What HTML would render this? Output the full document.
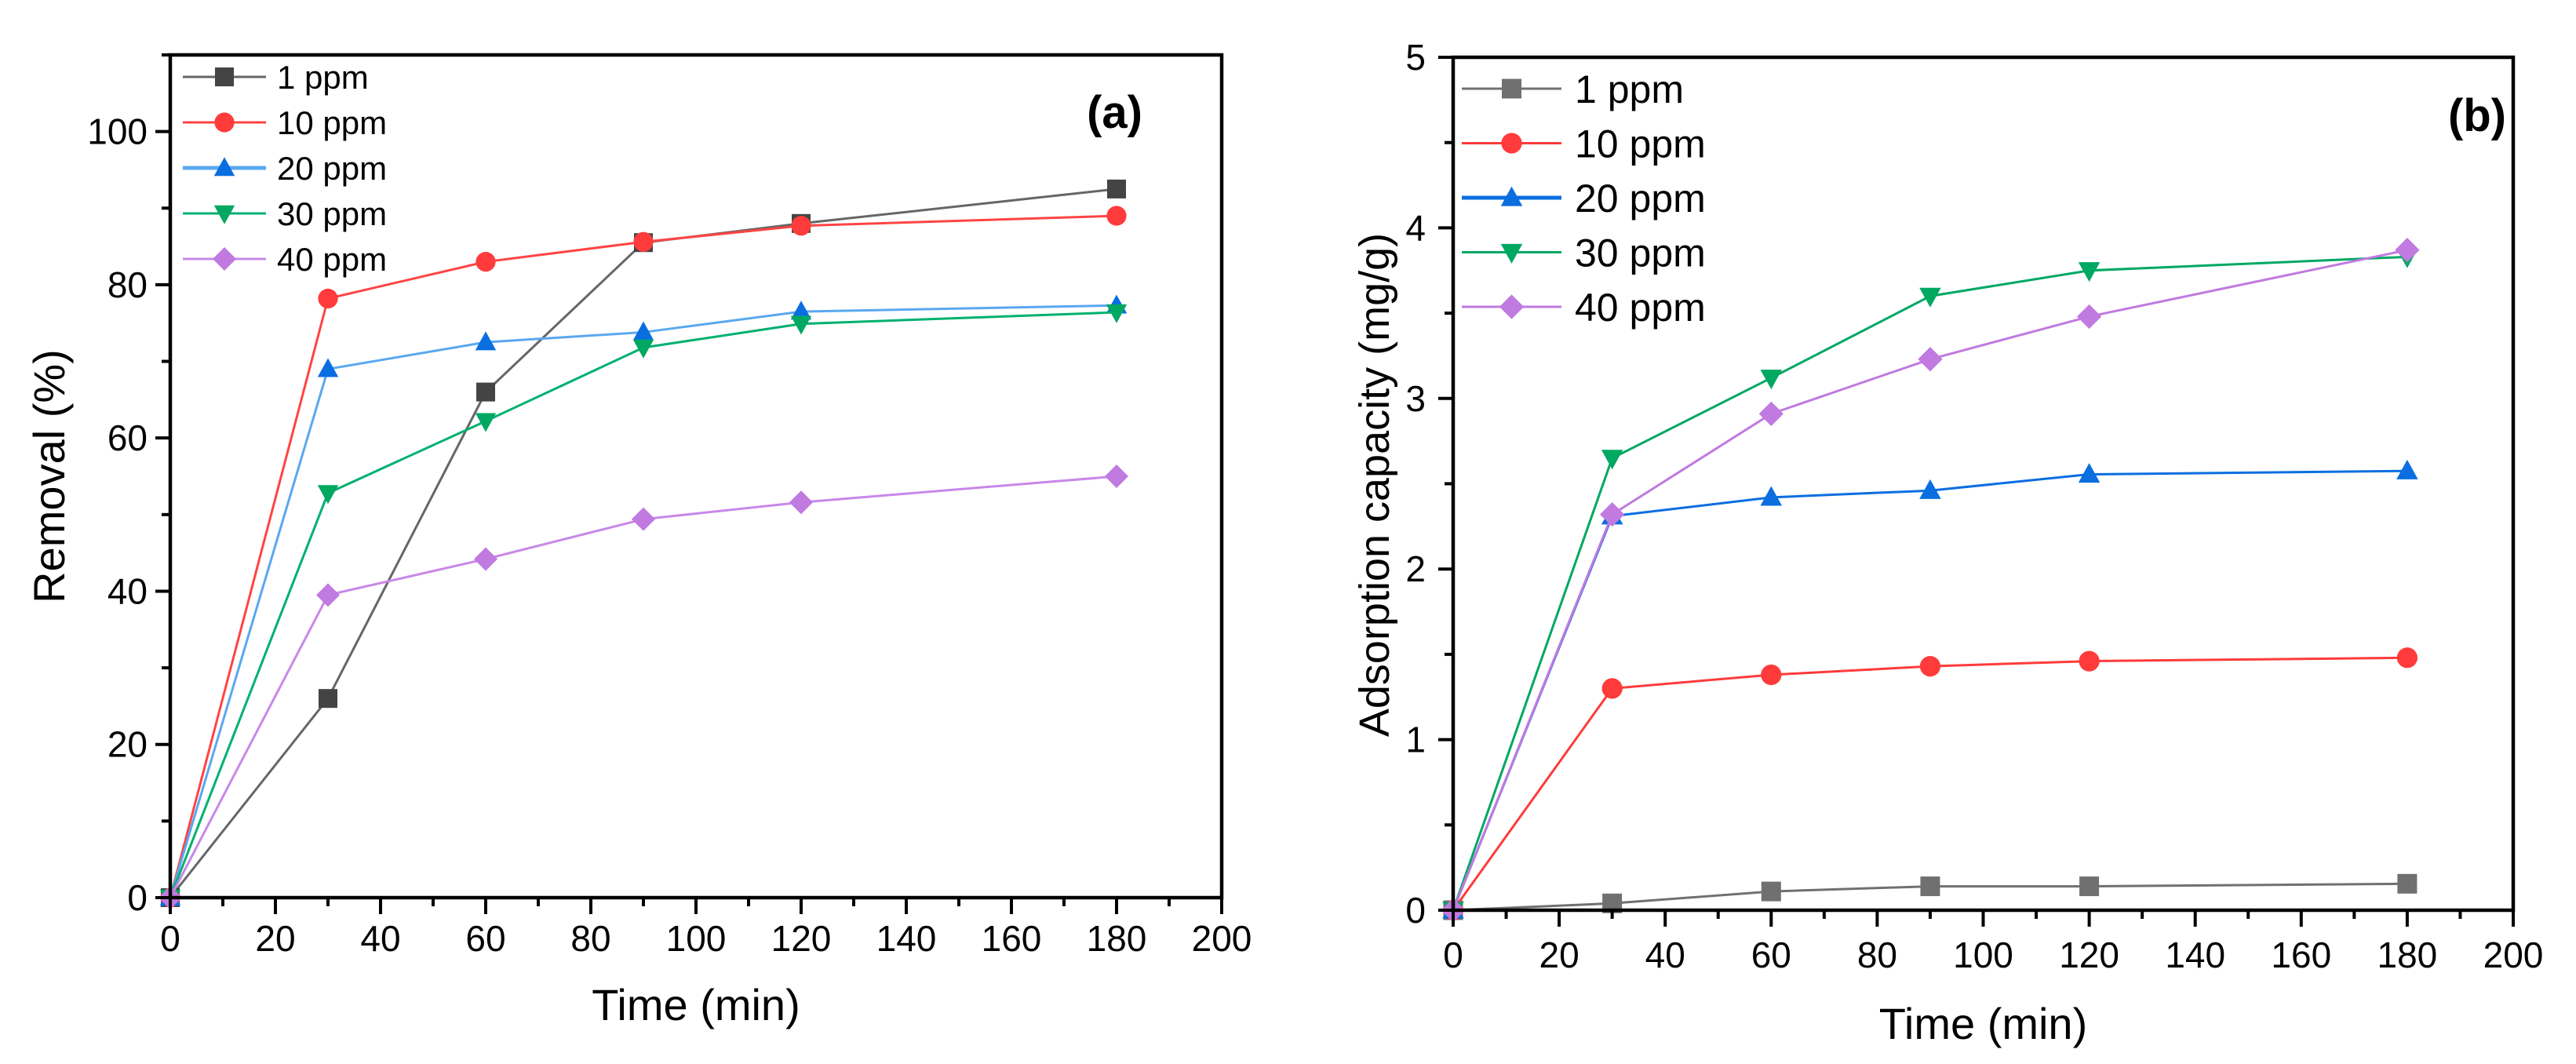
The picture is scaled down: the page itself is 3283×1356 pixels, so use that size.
<!DOCTYPE html>
<html><head><meta charset="utf-8"><style>
html,body{margin:0;padding:0;background:#fff;}
svg{display:block;font-family:"Liberation Sans",Arial,sans-serif;}
</style></head><body>
<svg id="fig" width="3283" height="1356" viewBox="0 0 3283 1356" xmlns="http://www.w3.org/2000/svg"></svg>
<script>
const times = [0, 30, 60, 90, 120, 180];
const seriesNames = ["1 ppm", "10 ppm", "20 ppm", "30 ppm", "40 ppm"];
const removal1 = [0, 26, 66, 85.5, 88, 92.5];
const removal10 = [0, 78.2, 83, 85.6, 87.7, 89];
const removal20 = [0, 69, 72.5, 73.8, 76.5, 77.3];
const removal30 = [0, 52.8, 62.2, 71.8, 74.9, 76.4];
const removal40 = [0, 39.5, 44.2, 49.4, 51.6, 55];
const capacity1 = [0, 0.04, 0.11, 0.14, 0.14, 0.155];
const capacity10 = [0, 1.3, 1.38, 1.43, 1.46, 1.48];
const capacity20 = [0, 2.31, 2.42, 2.46, 2.555, 2.575];
const capacity30 = [0, 2.65, 3.12, 3.6, 3.75, 3.83];
const capacity40 = [0, 2.32, 2.91, 3.23, 3.48, 3.87];
const xTicks = [0, 20, 40, 60, 80, 100, 120, 140, 160, 180, 200];
const yTicksA = [0, 20, 40, 60, 80, 100];
const yTicksB = [0, 1, 2, 3, 4, 5];

const NS = "http://www.w3.org/2000/svg";
const svg = document.getElementById('fig');
function el(tag, attrs, parent, text){
  const e = document.createElementNS(NS, tag);
  for (const k in attrs) e.setAttribute(k, attrs[k]);
  if (text !== undefined) e.textContent = text;
  (parent || svg).appendChild(e);
  return e;
}
const colorsA = ["#444444", "#ff3b3b", "#0a6ee0", "#00a862", "#c07ae0"];
const lineA = ["#666666", "#ff4444", "#5aa8f0", "#00b070", "#c888e8"];
const colorsB = ["#707070", "#ff3b3b", "#0a6ee0", "#00a862", "#c07ae0"];
const shapes = ["square", "circle", "up", "down", "diamond"];

function marker(g, shape, x, y, s, color){
  const h = s / 2;
  let m;
  if (shape === "square") m = el('rect', {x: x-h, y: y-h, width: s, height: s, fill: color}, g);
  else if (shape === "circle") m = el('circle', {cx: x, cy: y, r: h*1.05, fill: color}, g);
  else if (shape === "up") m = el('polygon', {points: `${x},${y-h*1.15} ${x-h*1.1},${y+h*0.85} ${x+h*1.1},${y+h*0.85}`, fill: color}, g);
  else if (shape === "down") m = el('polygon', {points: `${x},${y+h*1.15} ${x-h*1.1},${y-h*0.85} ${x+h*1.1},${y-h*0.85}`, fill: color}, g);
  else m = el('polygon', {points: `${x},${y-h*1.25} ${x+h*1.25},${y} ${x},${y+h*1.25} ${x-h*1.25},${y}`, fill: color}, g);
  
  
}

function panel(cfg){
  const g = el('g', {});
  
  
  const {L, R, T, B, ymax, yTicks, yMinor, data, colors, lines} = cfg;
  const sx = v => L + (R - L) * v / 200;
  const sy = v => B - (B - T) * v / ymax;
  data.forEach((vals, i) => {
    const sg = el('g', {}, g);
    
    
    const pts = vals.map((v, j) => sx(times[j]) + ',' + sy(v)).join(' ');
    el('polyline', {points: pts, fill: 'none', stroke: lines[i], 'stroke-width': 3}, sg);
    vals.forEach((v, j) => marker(sg, shapes[i], sx(times[j]), sy(v), cfg.ms, colors[i]));
  });
  const f = el('rect', {x: L, y: T, width: R - L, height: B - T, fill: 'none', stroke: '#000', 'stroke-width': 4.5}, g);
  
  
  for (let v = 0; v <= 200; v += 10) {
    const major = v % 20 === 0;
    el('line', {x1: sx(v), x2: sx(v), y1: B, y2: B + (major ? 21 : 11), stroke: '#000', 'stroke-width': 4}, g);
  }
  xTicks.forEach(v => {
    const t = el('text', {x: sx(v), y: cfg.xLabY, 'font-size': 46, 'text-anchor': 'middle'}, g, String(v));
    
    
  });
  for (let v = 0; v <= ymax + 1e-9; v += yMinor) {
    const major = Math.abs(v / (yMinor*2) - Math.round(v / (yMinor*2))) < 1e-6;
    el('line', {x1: L, x2: L - (major ? 19 : 11), y1: sy(v), y2: sy(v), stroke: '#000', 'stroke-width': 4}, g);
  }
  yTicks.forEach(v => {
    const t = el('text', {x: cfg.yLabX, y: sy(v) + 16, 'font-size': 46, 'text-anchor': 'end'}, g, String(v));
    
    
  });
  const xt = el('text', {x: (L + R) / 2, y: cfg.xTitleY, 'font-size': 56, 'text-anchor': 'middle'}, g, 'Time (min)');
  
  
  const yt = el('text', {x: 0, y: 0, 'font-size': cfg.ytSize, 'text-anchor': 'middle', transform: `translate(${cfg.yTitleX},${cfg.yTitleYc}) rotate(-90)`}, g, cfg.yTitle);
  
  
  const pl = el('text', {x: cfg.plX, y: cfg.plY, 'font-size': 58, 'font-weight': 'bold', 'text-anchor': 'end'}, g, cfg.panelLabel);
  
  
  const lg = el('g', {}, g);
  
  
  seriesNames.forEach((n, i) => {
    const y = cfg.legY0 + i * cfg.legDy;
    const e = el('g', {}, lg);
    
    
    el('line', {x1: cfg.legX1, x2: cfg.legX2, y1: y, y2: y, stroke: lines[i], 'stroke-width': i === 2 ? 5 : 3}, e);
    marker(e, shapes[i], (cfg.legX1 + cfg.legX2) / 2, y, cfg.ms, colors[i]);
    el('text', {x: cfg.legTX, y: y + cfg.legFs * 0.36, 'font-size': cfg.legFs}, e, n);
  });
}

panel({name: 'chart-a-removal', L: 217, R: 1557, T: 70, B: 1144, ymax: 110,
  yTicks: yTicksA, yMinor: 10, data: [removal1, removal10, removal20, removal30, removal40],
  colors: colorsA, lines: lineA, ms: 24, xLabY: 1212, yLabX: 188, xTitleY: 1300,
  yTitle: 'Removal (%)', yTitleX: 82, yTitleYc: 607, ytSize: 56,
  plX: 1456, plY: 163, panelLabel: '(a)',
  legY0: 98, legDy: 58, legX1: 233, legX2: 339, legTX: 353, legFs: 42});

panel({name: 'chart-b-capacity', L: 1852, R: 3203, T: 73, B: 1160, ymax: 5,
  yTicks: yTicksB, yMinor: 0.5, data: [capacity1, capacity10, capacity20, capacity30, capacity40],
  colors: colorsB, lines: ["#707070", "#ff3b3b", "#0a6ee0", "#00a862", "#c07ae0"], ms: 25, xLabY: 1233, yLabX: 1817, xTitleY: 1324,
  yTitle: 'Adsorption capacity (mg/g)', yTitleX: 1770, yTitleYc: 618, ytSize: 54,
  plX: 3194, plY: 167, panelLabel: '(b)',
  legY0: 113, legDy: 69.5, legX1: 1863, legX2: 1990, legTX: 2007, legFs: 50});
</script>
</body></html>
